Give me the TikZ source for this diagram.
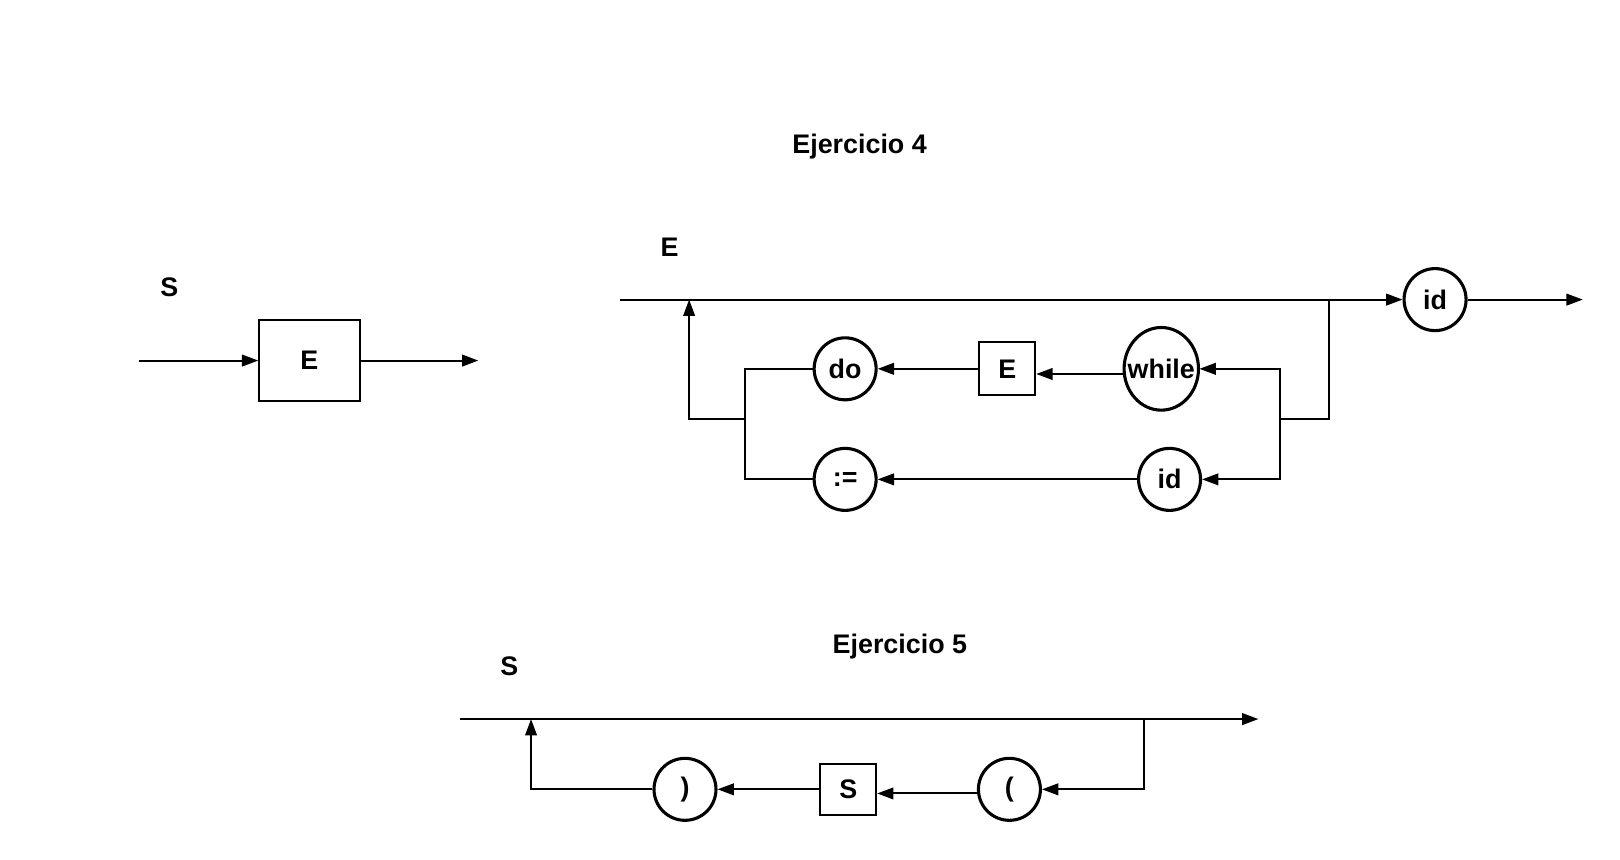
\documentclass[tikz,border=0pt]{standalone}
\usepackage{fontspec}
\setmainfont{Liberation Sans}
\usetikzlibrary{arrows.meta}

\tikzset{
	every node/.style={font=\fontsize{7.4}{8.5}\selectfont\bfseries},
	term/.style={draw, circle, line width=0.85pt, minimum size=0.6cm, inner sep=0pt},
	nonterm/.style={draw, rectangle, line width=0.55pt, inner sep=0pt},
	arr/.style={-{Triangle[length=4.5pt,width=3.2pt]}},
}

\begin{document}
\begin{tikzpicture}[line width=0.55pt]
	%\draw[help lines, thick] (0,0) grid (16,9);
	\useasboundingbox (0,0) rectangle (15.68,8.32);
	\node (tit4) at (8.32,6.90) {Ejercicio 4};
	\node (tit5) at (8.71,2.06) {Ejercicio 5};
	% S -> E
	\node (labS) at (1.64,5.54) {S};
	\coordinate (sIn) at (1.35,4.83);
	\node[nonterm, minimum width=0.97cm, minimum height=0.78cm] (boxE) at (2.995,4.83) {E};
	\coordinate (sOut) at (4.63,4.83);
	\draw[arr] (sIn) -- (boxE);
	\draw[arr] (boxE) -- (sOut);
	% E
	\node (labE) at (6.48,5.93) {E};
	\coordinate (eIn) at (6.00,5.42);
	\node[term] (id1) at (13.89,5.42) {id};
	\coordinate (eOut) at (15.32,5.42);
	\coordinate (br) at (12.86,5.42);
	\coordinate (brR) at (12.39,4.26);
	\coordinate (brL) at (7.21,4.26);
	\coordinate (back) at (6.67,5.42);
	\node[inner sep=0pt, minimum width=0.72cm, minimum height=0.8cm] (wh) at (11.24,4.75) {while};
	\draw[line width=0.85pt] (wh.center) ellipse (0.36 and 0.40);
	\node[nonterm, minimum width=0.54cm, minimum height=0.51cm] (boxE2) at (9.75,4.75) {E};
	\node[term] (do) at (8.18,4.75) {do};
	\node[term] (id2) at (11.32,3.68) {id};
	\node[term] (asg) at (8.18,3.68) {:=};
	\draw[arr] (eIn) -- (id1);
	\draw[arr] (id1) -- (eOut);
	\draw (br) |- (brR);
	\draw[arr] (brR) |- (wh.east);
	\draw[arr] (brR) |- (id2.east);
	\draw[arr] ([yshift=-0.05cm]wh.west) -- ([yshift=-0.05cm]boxE2.east);
	\draw[arr] (boxE2) -- (do);
	\draw[arr] (id2) -- (asg);
	\draw (do.west) -| (brL);
	\draw (asg.west) -| (brL);
	\draw[arr] (brL) -| (back);
	% S -> ( S )
	\node (labS2) at (4.93,1.87) {S};
	\coordinate (pIn) at (4.45,1.36);
	\coordinate (pOut) at (12.18,1.36);
	\coordinate (pBr) at (11.07,1.36);
	\coordinate (pBack) at (5.14,1.36);
	\node[term] (lpar) at (9.77,0.68) {(};
	\node[nonterm, minimum width=0.54cm, minimum height=0.50cm] (boxS) at (8.21,0.68) {S};
	\node[term] (rpar) at (6.63,0.68) {)};
	\draw[arr] (pIn) -- (pOut);
	\draw[arr] (pBr) |- (lpar.east);
	\draw[arr] ([yshift=-0.04cm]lpar.west) -- ([yshift=-0.04cm]boxS.east);
	\draw[arr] (boxS) -- (rpar);
	\draw[arr] (rpar.west) -| (pBack);
\end{tikzpicture}
\end{document}
